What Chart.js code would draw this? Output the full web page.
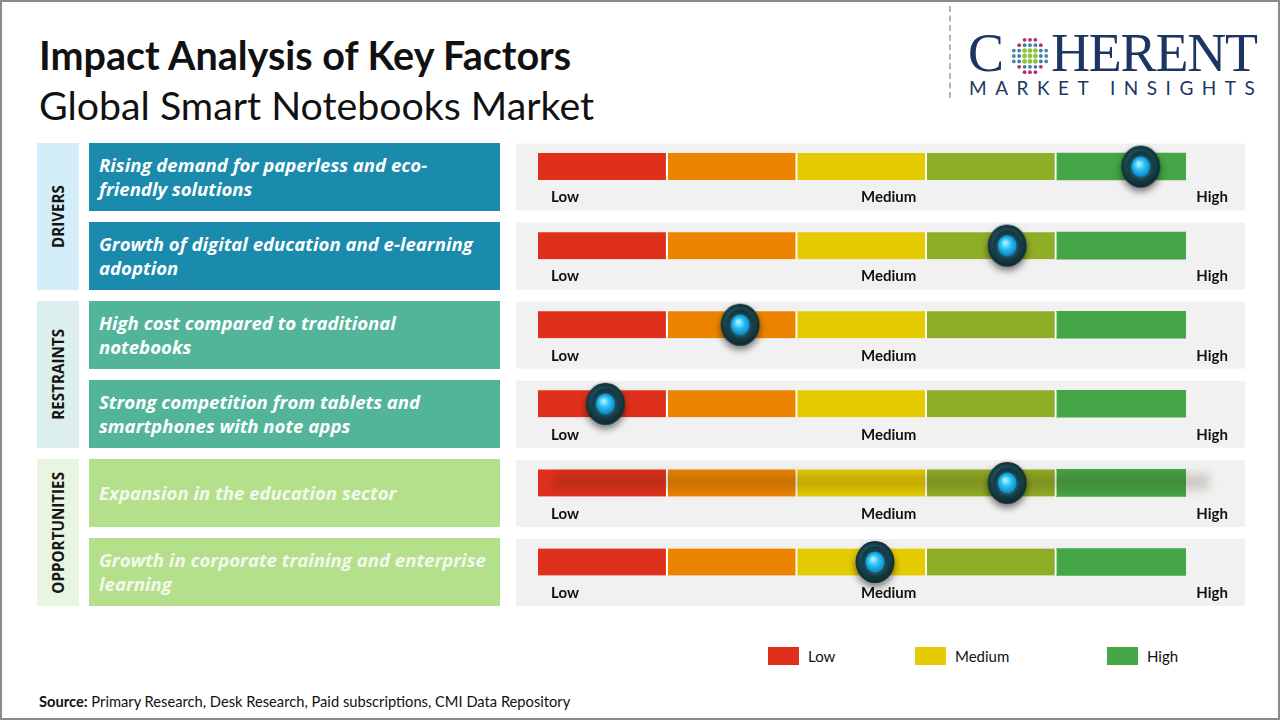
<!DOCTYPE html>
<html lang="en">
<head>
<meta charset="utf-8">
<title>Impact Analysis of Key Factors - Global Smart Notebooks Market</title>
<script src="https://cdn.jsdelivr.net/npm/chart.js@4.4.1/dist/chart.umd.min.js"></script>
<style>
    html, body { margin: 0; padding: 0; }
    body {
        width: 1280px; height: 720px; position: relative; overflow: hidden;
        background: #fff; font-family: Lato, "Noto Sans", sans-serif; color: #111;
    }
    .abs { position: absolute; }
    #frame { left: 0; top: 0; width: 1280px; height: 720px; box-sizing: border-box; border: 2px solid #8c8c8c; pointer-events: none; }
    #title { left: 39px; top: 35px; font: 700 39.5px/39.5px Lato, sans-serif; white-space: nowrap; }
    #subtitle { left: 39px; top: 85px; font: 400 39.3px/39.3px Lato, sans-serif; white-space: nowrap; }
    #divider { left: 949px; top: 6px; height: 92px; border-left: 2px dashed #b5b5b5; }
    .logo-big { top: 26px; font: 400 54px/54px "Liberation Serif", serif; color: #1c3664; white-space: nowrap; }
    #logo-c { left: 968px; }
    #logo-rest { left: 1051px; letter-spacing: -1.2px; }
    #globe { left: 1010px; top: 36px; }
    #logo-sub { left: 969px; top: 78px; font: 400 19px/19px Lato, sans-serif; letter-spacing: 8.5px; color: #1c3664; white-space: nowrap; }
    .group-box { left: 37px; width: 42px; display: flex; align-items: center; justify-content: center; }
    .group-box span {
        writing-mode: vertical-rl; transform: rotate(180deg);
        font: 700 15.2px "Open Sans", sans-serif; color: #161616; white-space: nowrap;
    }
    .factor-box {
        left: 89px; width: 411px; height: 68px; box-sizing: border-box;
        padding: 0 8px 0 10px; display: flex; align-items: center;
        font: italic 700 18.6px/24px "Open Sans", sans-serif; color: #fff; white-space: nowrap;
    }
    #gauge-wrap { left: 516px; top: 120px; width: 734px; height: 500px; }
    .legend-item { top: 647px; display: flex; align-items: center; font: 400 15px/18px Lato, sans-serif; color: #111; }
    .legend-item i { display: inline-block; width: 31px; height: 18px; margin-right: 9px; }
    #source { left: 39px; top: 694px; font: 400 14.7px/14.7px Lato, sans-serif; white-space: nowrap; }
</style>
</head>
<body>
<div id="title" class="abs">Impact Analysis of Key Factors</div>
<div id="subtitle" class="abs">Global Smart Notebooks Market</div>

<div id="divider" class="abs"></div>
<div id="logo-c" class="abs logo-big">C</div>
<canvas id="globe" class="abs" width="40" height="40"></canvas>
<div id="logo-rest" class="abs logo-big">HERENT</div>
<div id="logo-sub" class="abs">MARKET INSIGHTS</div>

<div id="left-boxes"></div>

<div id="gauge-wrap" class="abs">
    <canvas id="gauge" width="734" height="500"></canvas>
</div>

<div id="legend"></div>

<div id="source" class="abs"><b>Source:</b> Primary Research, Desk Research, Paid subscriptions, CMI Data Repository</div>
<div id="frame" class="abs"></div>

<script>
    // Datos del gráfico
    const groupNames = ['DRIVERS', 'RESTRAINTS', 'OPPORTUNITIES'];
    // etiquetas de varias líneas, como en Chart.js
    const factorLabels = [
        ['Rising demand for paperless and eco-', 'friendly solutions'],
        ['Growth of digital education and e-learning', 'adoption'],
        ['High cost compared to traditional', 'notebooks'],
        ['Strong competition from tablets and', 'smartphones with note apps'],
        ['Expansion in the education sector'],
        ['Growth in corporate training and enterprise', 'learning']
    ];
    const factorGroup = [0, 0, 1, 1, 2, 2];
    // posición del indicador en la escala 0 (Low) .. 5 (High)
    const impactValues = [4.65, 3.62, 1.56, 0.52, 3.62, 2.6];

    const segmentNames = ['Low', 'Low-Medium', 'Medium', 'Medium-High', 'High'];
    const segmentWidths = [1, 1, 1, 1, 1];
    const segmentColors = ['#df301c', '#ec8400', '#e5cb02', '#8fae27', '#44a646'];

    const scaleLabels = ['Low', 'Medium', 'High'];
    const scaleTicks = [0, 2.5, 5];

    const legendLabels = ['Low', 'Medium', 'High'];
    const legendColors = ['#df301c', '#e5cb02', '#44a646'];

    const groupColors = ['#d3eef8', '#dcefec', '#e8f5e1'];
    const factorColors = ['#1a8aad', '#52b59a', '#b5e08b'];
    const factorTextColors = ['#ffffff', '#ffffff', '#f2f9ec'];

    /**
     * Logo: globo de puntos
     */
    function drawGlobe() {
        const g = document.getElementById('globe').getContext('2d');
        const step = 5.4;
        for (let gy = -3; gy <= 3; gy++) {
            for (let gx = -3; gx <= 3; gx++) {
                const d = Math.hypot(gx, gy);
                if (d > 3.3) continue;
                let color = '#3f7ea4';
                if (d <= 1.5) color = '#8cc63f';
                else if (d > 2.6 && Math.abs(gy) >= 2) color = '#b3316b';
                else if (d > 2.6) color = '#4a86aa';
                g.fillStyle = color;
                g.beginPath();
                g.arc(20 + gx * step, 20 + gy * step, d <= 1.5 ? 2.4 : 1.9, 0, Math.PI * 2);
                g.fill();
            }
        }
    }

    /**
     * Imagen del indicador (perilla)
     */
    function makeKnob() {
        const c = document.createElement('canvas');
        c.width = 56;
        c.height = 64;
        const g = c.getContext('2d');
        const cx = 28, cy = 32;

        g.save();
        g.shadowColor = 'rgba(0,0,0,0.5)';
        g.shadowBlur = 7;
        g.shadowOffsetY = 4;
        const outer = g.createRadialGradient(cx - 3, cy - 7, 2, cx, cy, 22);
        outer.addColorStop(0, '#3f7f8b');
        outer.addColorStop(0.55, '#1d4c56');
        outer.addColorStop(1, '#0b232a');
        g.fillStyle = outer;
        g.beginPath();
        g.ellipse(cx, cy, 19.5, 21, 0, 0, Math.PI * 2);
        g.fill();
        g.restore();

        const ring = g.createRadialGradient(cx, cy + 4, 4, cx, cy, 16);
        ring.addColorStop(0, '#2c6a77');
        ring.addColorStop(1, '#102f37');
        g.fillStyle = ring;
        g.beginPath();
        g.ellipse(cx, cy, 14, 15.5, 0, 0, Math.PI * 2);
        g.fill();

        const core = g.createRadialGradient(cx - 2, cy - 3, 1, cx, cy, 11);
        core.addColorStop(0, '#a8f2ff');
        core.addColorStop(0.45, '#27bff4');
        core.addColorStop(1, '#0a7fc0');
        g.fillStyle = core;
        g.beginPath();
        g.ellipse(cx, cy, 9.5, 10.5, 0, 0, Math.PI * 2);
        g.fill();
        return c;
    }

    /**
     * Plugin: paneles grises y etiquetas Low / Medium / High
     */
    const gaugePanels = {
        id: 'gaugePanels',
        beforeDatasetsDraw(chart) {
            const { ctx, scales: { x, y } } = chart;
            ctx.save();
            factorLabels.forEach((label, i) => {
                const cy = y.getPixelForValue(i);
                ctx.fillStyle = '#f1f1f1';
                ctx.fillRect(0, cy - 23, chart.width - 5, 67);

                ctx.fillStyle = '#111';
                ctx.font = '700 15px Lato, sans-serif';
                ctx.textBaseline = 'middle';
                ctx.textAlign = 'left';
                ctx.fillText(scaleLabels[0], x.getPixelForValue(scaleTicks[0]) + 13, cy + 31);
                ctx.fillText(scaleLabels[1], x.getPixelForValue(scaleTicks[1]) - 1, cy + 31);
                ctx.textAlign = 'right';
                ctx.fillText(scaleLabels[2], x.getPixelForValue(scaleTicks[2]) + 42, cy + 31);
            });
            ctx.restore();
        },
        // sombra difusa sobre la quinta fila, antes de dibujar las perillas
        beforeDatasetDraw(chart, args) {
            if (args.meta.type !== 'scatter') return;
            const { ctx, scales: { x, y } } = chart;
            const cy = y.getPixelForValue(4);
            const x0 = x.getPixelForValue(0), x1 = x.getPixelForValue(5);
            ctx.save();
            ctx.filter = 'blur(5px)';
            ctx.fillStyle = 'rgba(70,40,10,0.2)';
            ctx.fillRect(x0 + 15, cy - 9, x1 - x0 + 8, 16);
            ctx.restore();
        }
    };

    function buildLeftBoxes(chart) {
        const y = chart.scales.y;
        const top0 = 120;
        const holder = document.getElementById('left-boxes');
        const rowTop = i => top0 + y.getPixelForValue(i) - 24;

        groupNames.forEach((name, g) => {
            const rows = factorGroup.map((v, i) => v === g ? i : -1).filter(i => i >= 0);
            const top = rowTop(rows[0]);
            const bottom = rowTop(rows[rows.length - 1]) + 68;
            const box = document.createElement('div');
            box.className = 'abs group-box';
            box.style.top = `${top}px`;
            box.style.height = `${bottom - top}px`;
            box.style.background = groupColors[g];
            box.innerHTML = `<span>${name}</span>`;
            holder.appendChild(box);
        });

        factorLabels.forEach((lines, i) => {
            const box = document.createElement('div');
            box.className = 'abs factor-box';
            box.style.top = `${rowTop(i)}px`;
            box.style.background = factorColors[factorGroup[i]];
            box.style.color = factorTextColors[factorGroup[i]];
            box.innerHTML = `<div>${lines.join('<br>')}</div>`;
            holder.appendChild(box);
        });
    }

    function buildLegend() {
        const holder = document.getElementById('legend');
        const lefts = [768, 915, 1107];
        legendLabels.forEach((label, i) => {
            const item = document.createElement('div');
            item.className = 'abs legend-item';
            item.style.left = `${lefts[i]}px`;
            item.innerHTML = `<i style="background:${legendColors[i]}"></i>${label}`;
            holder.appendChild(item);
        });
    }

    function initChart() {
        const knob = makeKnob();

        const segmentDatasets = segmentColors.map((color, s) => ({
            type: 'bar',
            label: segmentNames[s],
            indexAxis: 'y',
            yAxisID: 'y',
            data: factorLabels.map(() => segmentWidths[s]),
            backgroundColor: color,
            borderColor: '#ffffff',
            borderWidth: s < segmentColors.length - 1 ? { top: 0, right: 2, bottom: 0, left: 0 } : 0,
            borderSkipped: false,
            barThickness: 27,
            order: 1
        }));

        const knobDataset = {
            type: 'scatter',
            label: 'Impact',
            yAxisID: 'yKnob',
            data: impactValues.map((v, i) => ({ x: v, y: i })),
            pointStyle: knob,
            pointRadius: 20,
            clip: false,
            order: -1
        };

        return new Chart(document.getElementById('gauge'), {
            data: {
                labels: factorLabels,
                datasets: [knobDataset, ...segmentDatasets]
            },
            options: {
                responsive: false,
                animation: false,
                events: [],
                layout: { autoPadding: false, padding: { left: 22, right: 64, top: 7, bottom: 18.5 } },
                plugins: {
                    legend: { display: false },
                    tooltip: { enabled: false }
                },
                scales: {
                    x: { type: 'linear', min: 0, max: 5, stacked: true, display: false },
                    y: { type: 'category', labels: factorLabels, offset: true, stacked: true, display: false },
                    // eje auxiliar para los indicadores, alineado con las categorías
                    yKnob: { type: 'linear', min: -0.5, max: factorLabels.length - 0.5, reverse: true, display: false }
                }
            },
            plugins: [gaugePanels]
        });
    }

    document.addEventListener('DOMContentLoaded', () => {
        drawGlobe();
        const chart = initChart();
        buildLeftBoxes(chart);
        buildLegend();
    });
</script>
</body>
</html>
